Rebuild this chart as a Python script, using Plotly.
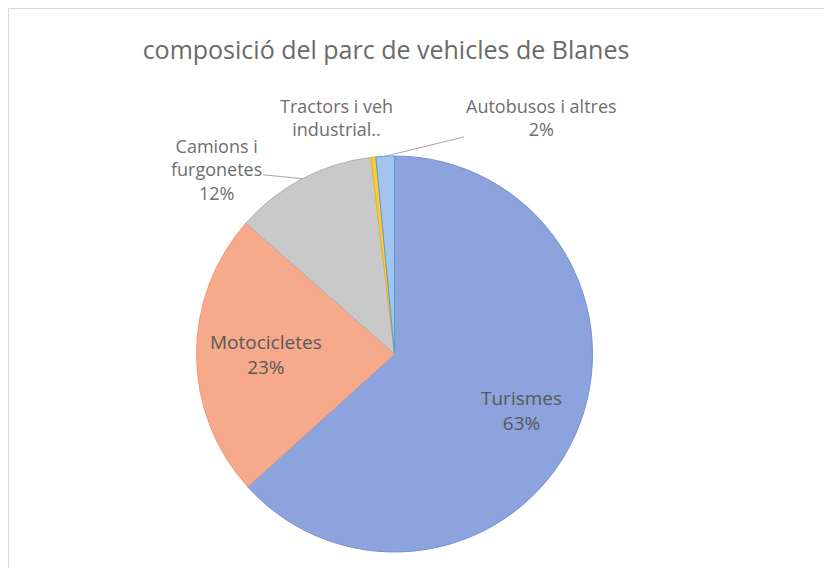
import math

import plotly.graph_objects as go

# Vehicle fleet composition (share of total, %)
categories = ["Turismes", "Motocicletes", "Camions i furgonetes",
              "Tractors i veh industrials", "Autobusos i altres"]
shares = [63.3, 23.2, 11.6, 0.4, 1.5]
pct_labels = ["63%", "23%", "12%", "0%", "2%"]
colors = ["#8DA3DD", "#F6AA8B", "#C9C9C9", "#FFCC33", "#A3C4EC"]
edge_colors = ["#7691D4", "#EC9C7A", "#B0B0B0", "#E8B820", "#5B9BD5"]

W, H = 832, 568
OFF = 8  # page body margin the browser adds around the figure
CX, CY, R = 394.5 - OFF, 354 - OFF, 198  # pie centre and radius, figure pixels


def px(x):
    return (x - OFF) / W


def py(y):
    return 1 - (y - OFF) / H


fig = go.Figure()

fig.add_trace(go.Pie(
    labels=categories,
    values=shares,
    sort=False,
    direction="clockwise",
    rotation=0,
    marker=dict(colors=colors, line=dict(color=edge_colors, width=1)),
    textinfo="none",
    hoverinfo="label+percent",
    showlegend=False,
    domain=dict(x=[(CX - R) / W, (CX + R) / W],
                y=[(H - CY - R) / H, (H - CY + R) / H]),
))


def slice_point(idx, frac=1.0):
    """Figure pixel coords at radius frac*R on the bisector of slice idx."""
    total = sum(shares)
    start = sum(shares[:idx])
    mid = (start + shares[idx] / 2) / total * 2 * math.pi
    return CX + frac * R * math.sin(mid), CY - frac * R * math.cos(mid)


inside_font = dict(family="Open Sans", size=19, color="#595959")
label_font = dict(family="Open Sans", size=18, color="#6E6E6E")

# Inside labels for the two big slices
for idx, frac in [(0, 0.70), (1, 0.65)]:
    x, y = slice_point(idx, frac)
    fig.add_annotation(x=x / W, y=1 - y / H, xref="paper", yref="paper",
                       xanchor="center", yanchor="middle",
                       text=f"{categories[idx]}<br>{pct_labels[idx]}",
                       showarrow=False, font=inside_font, align="center")

# Camions i furgonetes: label to the upper left with leader line
x, y = slice_point(2)
fig.add_annotation(x=x / W, y=1 - y / H, xref="paper", yref="paper",
                   ax=216 - OFF - x, ay=170 - OFF - y,
                   text="Camions i<br>furgonetes<br>" + pct_labels[2],
                   showarrow=True, arrowhead=0, arrowwidth=1, arrowcolor="#A6A6A6",
                   font=label_font, align="center")

# Tractors: truncated label, no leader line
fig.add_annotation(x=px(336), y=py(118), xref="paper", yref="paper",
                   xanchor="center", yanchor="middle",
                   text="Tractors i veh<br>industrial..", showarrow=False,
                   font=label_font, align="center")

# Autobusos i altres: label upper right with leader line
x, y = slice_point(4)
fig.add_annotation(x=x / W, y=1 - y / H, xref="paper", yref="paper",
                   ax=541 - OFF - x, ay=118 - OFF - y,
                   text=categories[4] + "<br>" + pct_labels[4],
                   showarrow=True, arrowhead=0, arrowwidth=1, arrowcolor="#A6A6A6",
                   font=label_font, align="center")

# Chart border (only top and left visible in the crop)
fig.add_shape(type="rect", xref="paper", yref="paper",
              x0=px(8.5), x1=1.02, y0=-0.02, y1=py(8.5),
              line=dict(color="#D9D9D9", width=1), fillcolor="rgba(0,0,0,0)")

fig.update_layout(
    width=W, height=H,
    margin=dict(l=0, r=0, t=0, b=0),
    paper_bgcolor="white",
    title=dict(text="composició del parc de vehicles de Blanes",
               x=px(386), xanchor="center", y=py(50), yanchor="middle",
               font=dict(family="Open Sans", size=25, color="#6A6A6A")),
)

fig.write_html("out.html")
